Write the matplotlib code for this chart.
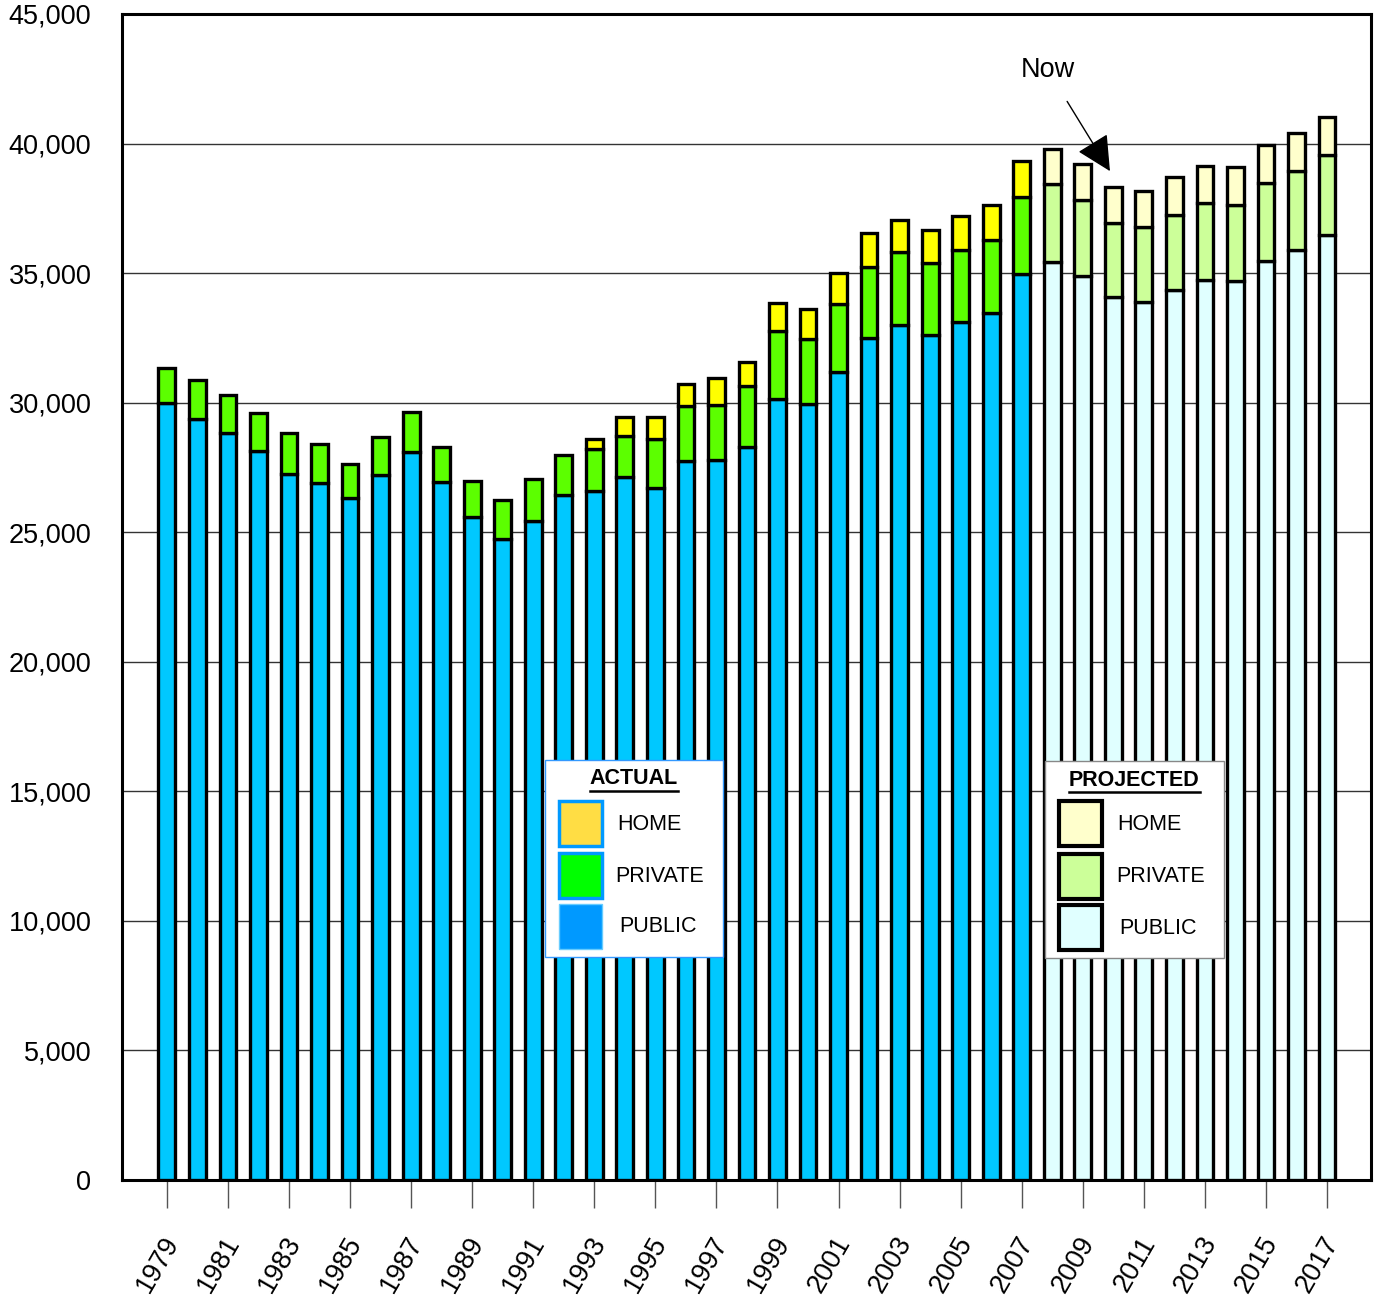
import matplotlib
matplotlib.use("Agg")
import matplotlib.pyplot as plt
from matplotlib.patches import Rectangle
from matplotlib.transforms import ScaledTranslation
import numpy as np

plt.rcParams['font.family'] = ['Liberation Sans', 'DejaVu Sans']

years = list(range(1979, 2018))
first_projected = 2008

public = [29970, 29380, 28820, 28120, 27230, 26900, 26320, 27190, 28100, 26920,
          25600, 24720, 25450, 26450, 26575, 27115, 26690, 27735, 27785, 28290,
          30155, 29960, 31185, 32500, 32990, 32620, 33120, 33475, 34960, 35410,
          34870, 34060, 33880, 34350, 34750, 34690, 35470, 35900, 36460]
private = [1360, 1500, 1460, 1480, 1610, 1520, 1300, 1500, 1540, 1360,
           1360, 1520, 1610, 1530, 1625, 1600, 1895, 2125, 2115, 2340,
           2615, 2510, 2640, 2740, 2810, 2760, 2780, 2820, 2980, 3010,
           2960, 2880, 2890, 2910, 2950, 2950, 3010, 3040, 3090]
home = [0, 0, 0, 0, 0, 0, 0, 0, 0, 0,
        0, 0, 0, 0, 380, 735, 865, 850, 1055, 940,
        1070, 1135, 1195, 1290, 1255, 1290, 1310, 1325, 1390, 1370,
        1365, 1390, 1390, 1430, 1440, 1440, 1460, 1480, 1480]

actual_colors = {"public": "#00C8FF", "private": "#5CFF00", "home": "#FFFF00"}
proj_colors = {"public": "#E0FFFF", "private": "#CCFF99", "home": "#FFFFCC"}

W, H = 1376, 1300
fig = plt.figure(figsize=(W / 100, H / 100), dpi=100)
ax = fig.add_axes([122 / W, 1 - 1180 / H, (1371 - 122) / W, (1180 - 14) / H])

x = np.array(years)
pub = np.array(public)
pri = np.array(private)
hom = np.array(home)
proj = x >= first_projected

def colors(key):
    return [proj_colors[key] if p else actual_colors[key] for p in proj]

bw = 0.55
lw = 2.4
ax.bar(x, pub, width=bw, color=colors("public"), edgecolor="black", linewidth=lw, zorder=3)
ax.bar(x, pri, bottom=pub, width=bw, color=colors("private"), edgecolor="black", linewidth=lw, zorder=3)
has_home = hom > 0
ax.bar(x[has_home], hom[has_home], bottom=(pub + pri)[has_home], width=bw,
       color=np.array(colors("home"))[has_home], edgecolor="black", linewidth=lw, zorder=3)

ax.set_xlim(1977.53, 2018.44)
ax.set_ylim(0, 45000)
ax.set_yticks(range(0, 45001, 5000))
ax.set_yticklabels([f"{v:,}" for v in range(0, 45001, 5000)])
ax.yaxis.grid(True, color="#333333", linewidth=1.0, zorder=0)
ax.set_axisbelow(True)
ax.tick_params(axis="y", length=0, pad=22, labelsize=19.5)

odd = [y for y in years if y % 2 == 1]
ax.set_xticks(odd)
ax.set_xticklabels([str(y) for y in odd], rotation=60, ha="right", va="center",
                   rotation_mode="anchor")
ax.tick_params(axis="x", direction="out", length=20, width=1, color="#555555",
               pad=22, labelsize=19.5)
shift = ScaledTranslation(6 / 100, 0, fig.dpi_scale_trans)
for lbl in ax.get_xticklabels():
    lbl.set_transform(lbl.get_transform() + shift)

for s in ax.spines.values():
    s.set_linewidth(2.2)
    s.set_color("black")

ax.annotate("Now", xy=(2009.89, 38936), xytext=(2007.86, 42830),
            ha="center", va="center", fontsize=19.5,
            arrowprops=dict(arrowstyle="-|>", color="black", lw=1,
                            mutation_scale=55, shrinkA=13, shrinkB=0),
            zorder=6)


def fx(px):
    return px / W


def fy(py):
    return 1 - py / H


fig.canvas.draw()
renderer = fig.canvas.get_renderer()


def legend_box(left, top, right, bottom, title, items, box_edge, box_lw):
    fig.add_artist(Rectangle((fx(left), fy(bottom)), fx(right - left), (bottom - top) / H,
                             transform=fig.transFigure, facecolor="white",
                             edgecolor=box_edge, linewidth=box_lw, zorder=10))
    cx = (left + right) / 2
    t = fig.text(fx(cx), fy(top + 19), title, ha="center", va="center",
                 fontsize=15.5, fontweight="bold", zorder=11)
    bb = t.get_window_extent(renderer)
    fig.add_artist(plt.Line2D([bb.x0 / W, bb.x1 / W], [fy(top + 31), fy(top + 31)],
                              transform=fig.transFigure, color="black", lw=1.8, zorder=11))
    for (sq_top, face, edge, elw, label, lx) in items:
        fig.add_artist(Rectangle((fx(left + 14), fy(sq_top + 45)), 43 / W, 45 / H,
                                 transform=fig.transFigure, facecolor=face,
                                 edgecolor=edge, linewidth=elw, zorder=11))
        fig.text(fx(lx), fy(sq_top + 23), label, ha="left", va="center",
                 fontsize=15.5, zorder=11)


legend_box(545, 760, 723, 957, "ACTUAL",
           [(801, "#FFDD44", "#0099FF", 2.5, "HOME", 617),
            (853, "#00FF00", "#0099FF", 2.5, "PRIVATE", 615),
            (904, "#0099FF", "#66CCFF", 1.0, "PUBLIC", 619)],
           "#3399FF", 1.0)
legend_box(1045, 761, 1224, 958, "PROJECTED",
           [(801, "#FFFFCC", "black", 3.0, "HOME", 1117),
            (854, "#CCFF99", "black", 3.0, "PRIVATE", 1116),
            (905, "#E0FFFF", "black", 3.0, "PUBLIC", 1119)],
           "#888888", 1.0)

fig.savefig("out.png", dpi=100)
